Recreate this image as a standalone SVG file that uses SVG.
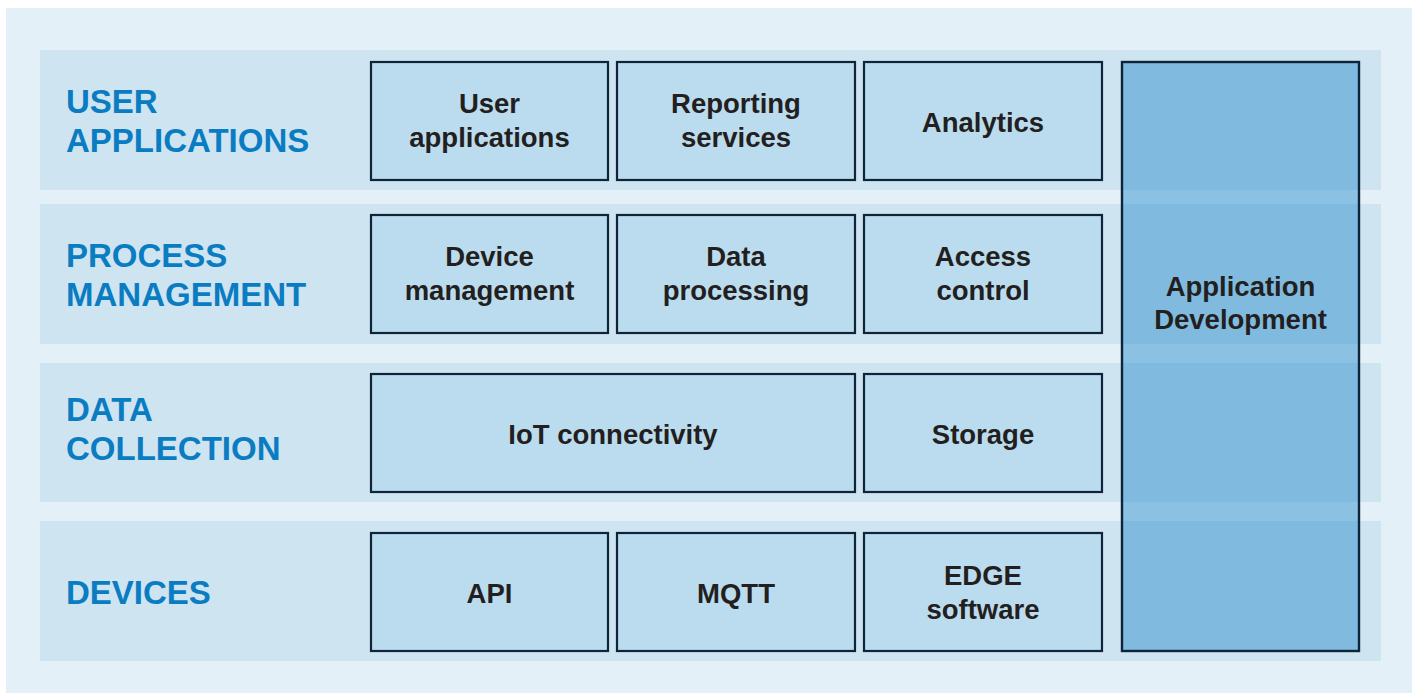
<svg xmlns="http://www.w3.org/2000/svg" width="1416" height="693" viewBox="0 0 1416 693">
  <style>
    .panel { fill: #e3f0f8; }
    .band { fill: #cfe4f1; }
    .box { fill: #bbdcee; stroke: #0e2439; stroke-width: 2.2; }
    .dev { fill: rgb(31,137,201); fill-opacity: 0.45; stroke: #0e2439; stroke-width: 2.4; }
    .layer { font-family: "Liberation Sans", Arial, sans-serif; font-weight: bold; font-size: 33px; fill: #0a7dc2; }
    .lbl { font-family: "Liberation Sans", Arial, sans-serif; font-weight: bold; font-size: 27.5px; fill: #231f20; text-anchor: middle; }
  </style>

  <rect width="1416" height="693" fill="#ffffff"/>
  <rect class="panel" x="6" y="8" width="1406" height="685"/>

  <!-- layer bands -->
  <g id="bands">
    <rect class="band" x="40" y="50" width="1341" height="140"/>
    <rect class="band" x="40" y="204" width="1341" height="140"/>
    <rect class="band" x="40" y="363" width="1341" height="139"/>
    <rect class="band" x="40" y="521" width="1341" height="140"/>
  </g>

  <!-- layer titles -->
  <g id="layer-user">
    <text class="layer" x="66" y="113">USER</text>
    <text class="layer" x="66" y="152">APPLICATIONS</text>
  </g>
  <g id="layer-process">
    <text class="layer" x="66" y="267">PROCESS</text>
    <text class="layer" x="66" y="306">MANAGEMENT</text>
  </g>
  <g id="layer-data">
    <text class="layer" x="66" y="421">DATA</text>
    <text class="layer" x="66" y="460">COLLECTION</text>
  </g>
  <g id="layer-devices">
    <text class="layer" x="66" y="604">DEVICES</text>
  </g>

  <!-- row 1 -->
  <g id="user-applications">
    <rect class="box" x="371" y="62" width="237" height="118"/>
    <text class="lbl" x="489.5" y="113">User</text>
    <text class="lbl" x="489.5" y="146.5">applications</text>
  </g>
  <g id="reporting-services">
    <rect class="box" x="617" y="62" width="238" height="118"/>
    <text class="lbl" x="736" y="113">Reporting</text>
    <text class="lbl" x="736" y="146.5">services</text>
  </g>
  <g id="analytics">
    <rect class="box" x="864" y="62" width="238" height="118"/>
    <text class="lbl" x="983" y="131.5">Analytics</text>
  </g>

  <!-- row 2 -->
  <g id="device-management">
    <rect class="box" x="371" y="215" width="237" height="118"/>
    <text class="lbl" x="489.5" y="266">Device</text>
    <text class="lbl" x="489.5" y="299.5">management</text>
  </g>
  <g id="data-processing">
    <rect class="box" x="617" y="215" width="238" height="118"/>
    <text class="lbl" x="736" y="266">Data</text>
    <text class="lbl" x="736" y="299.5">processing</text>
  </g>
  <g id="access-control">
    <rect class="box" x="864" y="215" width="238" height="118"/>
    <text class="lbl" x="983" y="266">Access</text>
    <text class="lbl" x="983" y="299.5">control</text>
  </g>

  <!-- row 3 -->
  <g id="iot-connectivity">
    <rect class="box" x="371" y="374" width="484" height="118"/>
    <text class="lbl" x="613" y="443.5">IoT connectivity</text>
  </g>
  <g id="storage">
    <rect class="box" x="864" y="374" width="238" height="118"/>
    <text class="lbl" x="983" y="443.5">Storage</text>
  </g>

  <!-- row 4 -->
  <g id="api">
    <rect class="box" x="371" y="533" width="237" height="118"/>
    <text class="lbl" x="489.5" y="602.5">API</text>
  </g>
  <g id="mqtt">
    <rect class="box" x="617" y="533" width="238" height="118"/>
    <text class="lbl" x="736" y="602.5">MQTT</text>
  </g>
  <g id="edge-software">
    <rect class="box" x="864" y="533" width="238" height="118"/>
    <text class="lbl" x="983" y="585">EDGE</text>
    <text class="lbl" x="983" y="618.5">software</text>
  </g>

  <!-- vertical column spanning all layers -->
  <g id="application-development">
    <rect class="dev" x="1122" y="62" width="237" height="589"/>
    <text class="lbl" x="1240.5" y="296">Application</text>
    <text class="lbl" x="1240.5" y="329">Development</text>
  </g>

  <g id="connectors"/>
</svg>
